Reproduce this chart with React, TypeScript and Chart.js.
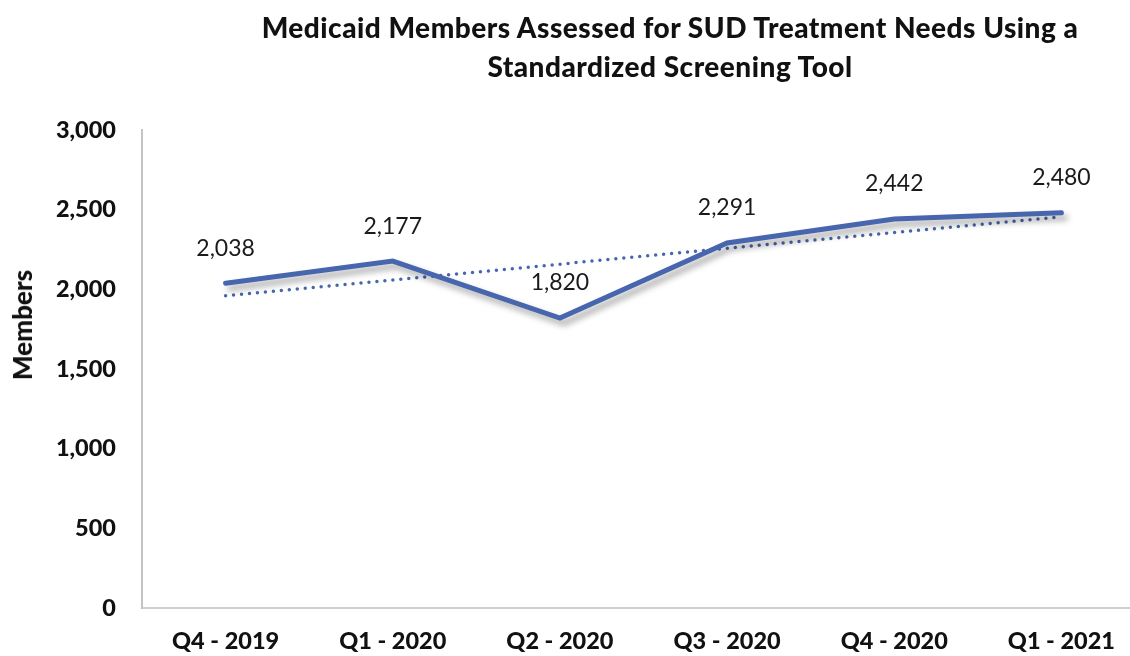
import React, { useEffect, useRef } from "react";
import { Chart, registerables } from "chart.js";

Chart.register(...registerables);

const categories = ["Q4 - 2019", "Q1 - 2020", "Q2 - 2020", "Q3 - 2020", "Q4 - 2020", "Q1 - 2021"];
const members = [2038, 2177, 1820, 2291, 2442, 2480];
const trend = [1960, 2059, 2158, 2258, 2357, 2456];
const yMin = 0;
const yMax = 3000;
const yStep = 500;
const titleLines = ["Medicaid Members Assessed for SUD Treatment Needs Using a", "Standardized Screening Tool"];
const yAxisTitle = "Members";

const LINE_COLOR = "#4866ad";
const FONT = "Lato, 'Noto Sans', sans-serif";

const fmt = (v: number) => v.toLocaleString("en-US");

const shadowPlugin = {
  id: "lineShadow",
  beforeDatasetDraw(chart: any, args: any) {
    if (args.index === 0) {
      const ctx = chart.ctx;
      ctx.save();
      ctx.shadowColor = "rgba(0,0,0,0.35)";
      ctx.shadowOffsetX = 4;
      ctx.shadowOffsetY = 5;
      ctx.shadowBlur = 6;
    }
  },
  afterDatasetDraw(chart: any, args: any) {
    if (args.index === 0) {
      chart.ctx.restore();
    }
  },
};

const labelPlugin = {
  id: "dataLabels",
  afterDatasetsDraw(chart: any) {
    const ctx = chart.ctx;
    const meta = chart.getDatasetMeta(0);
    const data = chart.data.datasets[0].data as number[];
    ctx.save();
    ctx.font = `400 23px ${FONT}`;
    ctx.fillStyle = "#1a1a1a";
    ctx.textAlign = "center";
    ctx.textBaseline = "middle";
    meta.data.forEach((pt: any, i: number) => {
      ctx.fillText(fmt(data[i]), pt.x, pt.y - 35);
    });
    ctx.restore();
  },
};

export default function App() {
  const canvasRef = useRef<HTMLCanvasElement | null>(null);

  useEffect(() => {
    if (!canvasRef.current) return;
    const chart = new Chart(canvasRef.current, {
      type: "line",
      data: {
        labels: categories,
        datasets: [
          {
            label: "Members",
            data: members,
            borderColor: LINE_COLOR,
            backgroundColor: LINE_COLOR,
            borderWidth: 5,
            pointRadius: 0,
            tension: 0,
            borderCapStyle: "round",
            borderJoinStyle: "miter",
          },
          {
            label: "Trend",
            data: trend,
            borderColor: LINE_COLOR,
            borderWidth: 3.5,
            borderDash: [0, 8],
            borderCapStyle: "round",
            pointRadius: 0,
            tension: 0,
          },
        ],
      },
      options: {
        responsive: false,
        animation: false,
        devicePixelRatio: 1,
        layout: { padding: { top: 130, right: 15, bottom: 0, left: 0 } },
        plugins: {
          legend: { display: false },
          tooltip: { enabled: false },
          title: { display: false },
        },
        scales: {
          x: {
            offset: true,
            grid: { display: false, drawTicks: false },
            border: { display: true, color: "#cfcfcf", width: 2 },
            ticks: {
              color: "#111",
              font: { family: FONT, size: 23.5, weight: "900" },
              padding: 19,
              maxRotation: 0,
            },
            afterFit: (s: any) => {
              s.height = 48;
            },
          },
          y: {
            min: yMin,
            max: yMax,
            grid: { display: false, drawTicks: false },
            border: { display: true, color: "#c4c4c4", width: 2 },
            ticks: {
              stepSize: yStep,
              color: "#111",
              font: { family: FONT, size: 23.5, weight: "900" },
              padding: 26,
              callback: (v: any) => fmt(Number(v)),
            },
            afterFit: (s: any) => {
              s.width = 142;
            },
          },
        },
      },
      plugins: [shadowPlugin, labelPlugin],
    });
    return () => chart.destroy();
  }, []);

  return (
    <div
      style={{
        position: "fixed",
        left: 0,
        top: 0,
        width: 1130,
        height: 656,
        overflow: "hidden",
        background: "#ffffff",
      }}
    >
      <canvas
        ref={canvasRef}
        width={1160}
        height={656}
        style={{ position: "absolute", left: 0, top: 0, width: 1160, height: 656 }}
      />
      <div
        style={{
          position: "absolute",
          left: 0,
          top: 8,
          width: 1340,
          textAlign: "center",
          fontFamily: FONT,
          fontWeight: 900,
          fontSize: 28,
          letterSpacing: "0.5px",
          lineHeight: "39px",
          color: "#111",
        }}
      >
        {titleLines.map((t) => (
          <div key={t}>{t}</div>
        ))}
      </div>
      <div
        style={{
          position: "absolute",
          left: 22,
          top: 325,
          transform: "translate(-50%, -50%) rotate(-90deg)",
          fontFamily: FONT,
          fontWeight: 900,
          fontSize: 26,
          color: "#111",
          whiteSpace: "nowrap",
        }}
      >
        {yAxisTitle}
      </div>
    </div>
  );
}
